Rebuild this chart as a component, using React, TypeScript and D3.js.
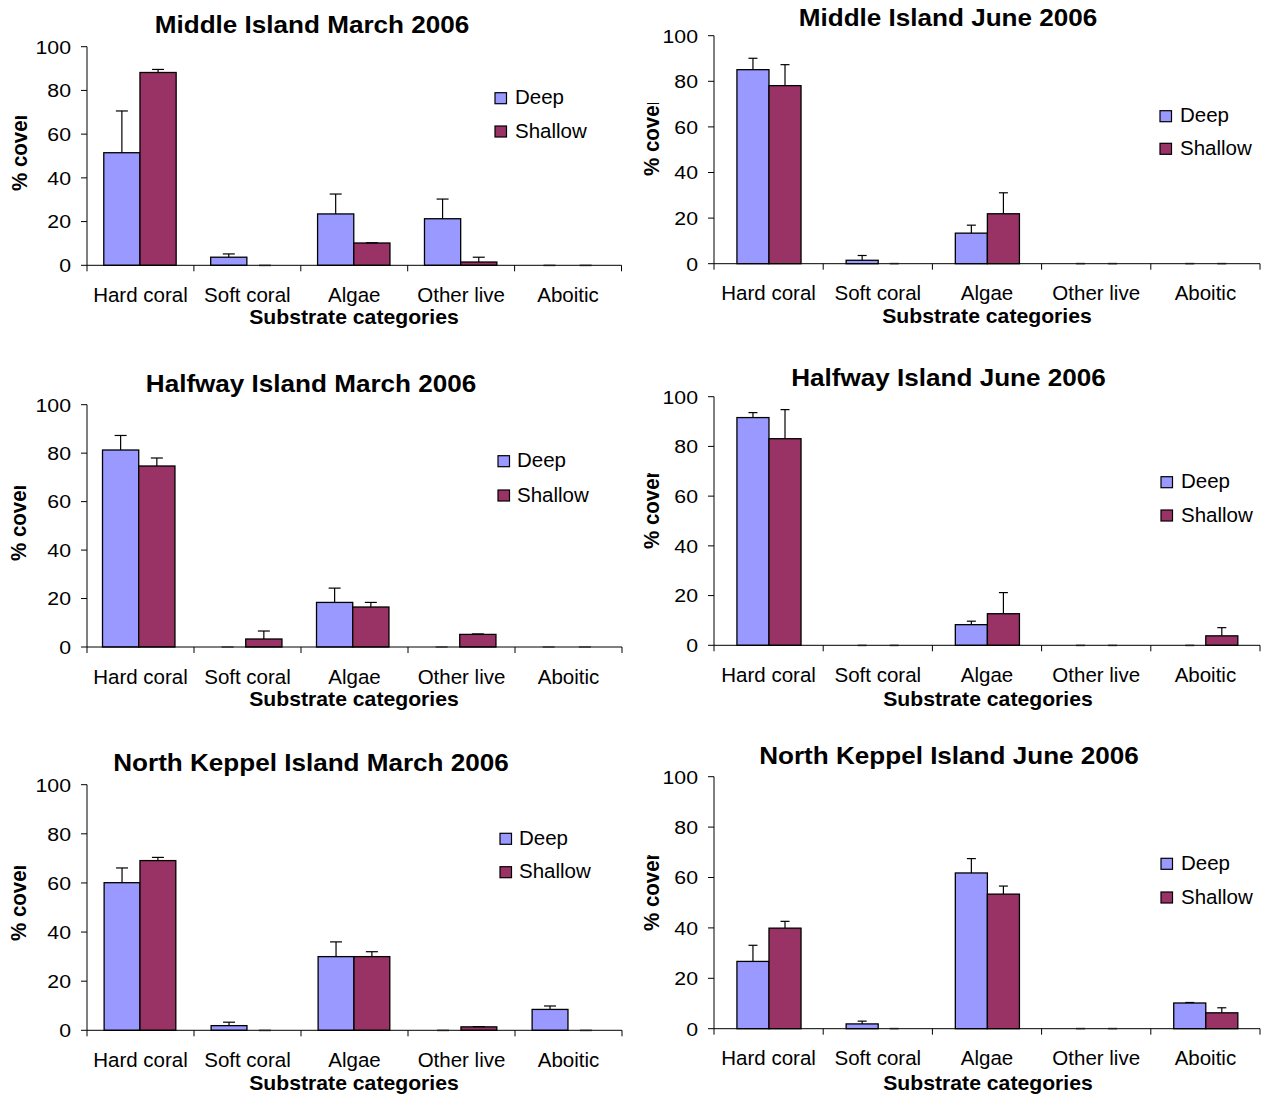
import React from "react";
import * as d3 from "d3";

const categories = ["Hard coral", "Soft coral", "Algae", "Other live", "Aboitic"];
const seriesNames = ["Deep", "Shallow"];
const yTicks = [0, 20, 40, 60, 80, 100];
const axisTitleX = "Substrate categories";
const axisTitleY = "% cover";

const titles = [
  "Middle Island March 2006",
  "Middle Island June 2006",
  "Halfway Island March 2006",
  "Halfway Island June 2006",
  "North Keppel Island March 2006",
  "North Keppel Island June 2006",
];

// mean % cover and upper error (SE) per category
const middleMarchDeep = [51.5, 3.7, 23.5, 21.3, 0];
const middleMarchDeepErr = [19.1, 1.5, 9.1, 9.0, 0];
const middleMarchShallow = [88.2, 0, 10.2, 1.5, 0];
const middleMarchShallowErr = [1.4, 0, 0.1, 2.2, 0];

const middleJuneDeep = [85.1, 1.5, 13.4, 0, 0];
const middleJuneDeepErr = [5.0, 2.1, 3.5, 0, 0];
const middleJuneShallow = [78.1, 0, 21.9, 0, 0];
const middleJuneShallowErr = [9.2, 0, 9.2, 0, 0];

const halfwayMarchDeep = [81.3, 0, 18.4, 0, 0];
const halfwayMarchDeepErr = [6.0, 0, 5.9, 0, 0];
const halfwayMarchShallow = [74.7, 3.3, 16.5, 5.2, 0];
const halfwayMarchShallowErr = [3.3, 3.3, 1.9, 0.2, 0];

const halfwayJuneDeep = [91.6, 0, 8.3, 0, 0];
const halfwayJuneDeepErr = [2.0, 0, 1.4, 0, 0];
const halfwayJuneShallow = [83.1, 0, 12.7, 0, 3.8];
const halfwayJuneShallowErr = [11.7, 0, 8.5, 0, 3.3];

const keppelMarchDeep = [60.1, 1.9, 30.0, 0, 8.5];
const keppelMarchDeepErr = [6.0, 1.4, 6.0, 0, 1.4];
const keppelMarchShallow = [69.1, 0, 30.0, 1.4, 0];
const keppelMarchShallowErr = [1.3, 0, 2.0, 0.1, 0];

const keppelJuneDeep = [26.7, 1.9, 61.8, 0, 10.2];
const keppelJuneDeepErr = [6.4, 1.1, 5.7, 0, 0.2];
const keppelJuneShallow = [39.9, 0, 53.4, 0, 6.3];
const keppelJuneShallowErr = [2.7, 0, 3.2, 0, 2.0];

const panelData = [
  { deep: middleMarchDeep, deepErr: middleMarchDeepErr, shallow: middleMarchShallow, shallowErr: middleMarchShallowErr },
  { deep: middleJuneDeep, deepErr: middleJuneDeepErr, shallow: middleJuneShallow, shallowErr: middleJuneShallowErr },
  { deep: halfwayMarchDeep, deepErr: halfwayMarchDeepErr, shallow: halfwayMarchShallow, shallowErr: halfwayMarchShallowErr },
  { deep: halfwayJuneDeep, deepErr: halfwayJuneDeepErr, shallow: halfwayJuneShallow, shallowErr: halfwayJuneShallowErr },
  { deep: keppelMarchDeep, deepErr: keppelMarchDeepErr, shallow: keppelMarchShallow, shallowErr: keppelMarchShallowErr },
  { deep: keppelJuneDeep, deepErr: keppelJuneDeepErr, shallow: keppelJuneShallow, shallowErr: keppelJuneShallowErr },
];

// layout per panel
const layouts = [
  { x0: 87, x1: 621.5, y100: 46.7, y0: 265.3, g0: 0.157, g1: 0.834, cap: 12, titleX: 312, titleY: 33.3, catY: 301.5, subX: 354, subY: 324, yLabX: 27, yLabStart: 191, yClip: 116, legX: 495, legTextX: 515, legY: [92.7, 126] },
  { x0: 714, x1: 1260, y100: 35.7, y0: 263.7, g0: 0.21, g1: 0.797, cap: 9, titleX: 948, titleY: 26, catY: 300, subX: 987, subY: 323, yLabX: 659, yLabStart: 176, yClip: 103, legX: 1160, legTextX: 1180, legY: [110.7, 143.3] },
  { x0: 87, x1: 622, y100: 404.7, y0: 647, g0: 0.145, g1: 0.822, cap: 12, titleX: 311, titleY: 392, catY: 684, subX: 354, subY: 706, yLabX: 26, yLabStart: 561, yClip: 486, legX: 498, legTextX: 517, legY: [455.7, 490] },
  { x0: 714, x1: 1260, y100: 396.7, y0: 645.3, g0: 0.21, g1: 0.797, cap: 9, titleX: 948.5, titleY: 386, catY: 681.7, subX: 988, subY: 706, yLabX: 659, yLabStart: 549, yClip: 473, legX: 1161, legTextX: 1181, legY: [476.7, 510] },
  { x0: 87, x1: 622, y100: 784.7, y0: 1030.3, g0: 0.16, g1: 0.83, cap: 12, titleX: 311, titleY: 770.7, catY: 1066.7, subX: 354, subY: 1090, yLabX: 26, yLabStart: 941, yClip: 866, legX: 500, legTextX: 519, legY: [833.3, 866.7] },
  { x0: 714, x1: 1260, y100: 776.7, y0: 1028.7, g0: 0.21, g1: 0.797, cap: 9, titleX: 949, titleY: 764, catY: 1065, subX: 988, subY: 1090, yLabX: 659, yLabStart: 931, yClip: 855, legX: 1161, legTextX: 1181, legY: [858.3, 892] },
];

const colors: Record<string, string> = { Deep: "#9999FF", Shallow: "#993366" };
const FONT = "'Liberation Sans', Arial, Helvetica, sans-serif";

function Txt({ x, y, size, bold = false, anchor = "start", sx = 1, children }: any) {
  return (
    <text
      transform={`translate(${x},${y}) scale(${sx},1)`}
      fontFamily={FONT}
      fontSize={size}
      fontWeight={bold ? "bold" : "normal"}
      textAnchor={anchor}
      fill="#000"
    >
      {children}
    </text>
  );
}

function Panel({ idx }: { idx: number }) {
  const L = layouts[idx];
  const D = panelData[idx];
  const x = d3.scaleBand<string>().domain(categories).range([L.x0, L.x1]).padding(0);
  const bw = x.bandwidth();
  const xs = d3.scaleBand<string>().domain(seriesNames).range([bw * L.g0, bw * L.g1]).padding(0);
  const y = d3.scaleLinear().domain([0, 100]).range([L.y0, L.y100]);
  const series = [
    { name: "Deep", vals: D.deep, errs: D.deepErr },
    { name: "Shallow", vals: D.shallow, errs: D.shallowErr },
  ];
  const boundaries = categories.map((c) => x(c) as number).concat([L.x1]);
  const clipId = `yclip${idx}`;
  return (
    <g>
      <defs>
        <clipPath id={clipId}>
          <rect x={0} y={L.yClip} width={L.x0 - 30} height={200} />
        </clipPath>
      </defs>
      <Txt x={L.titleX} y={L.titleY} size={23.5} bold anchor="middle" sx={1.11}>
        {titles[idx]}
      </Txt>
      {/* bars */}
      {series.map((s) =>
        categories.map((c, i) => {
          const bx = (x(c) as number) + (xs(s.name) as number);
          const v = s.vals[i];
          const top = y(v);
          return v > 0 ? (
            <rect
              key={s.name + c}
              x={bx}
              y={top}
              width={xs.bandwidth()}
              height={y(0) - top}
              fill={colors[s.name]}
              stroke="#000"
              strokeWidth={1.3}
            />
          ) : null;
        })
      )}
      {/* error bars */}
      {series.map((s) =>
        categories.map((c, i) => {
          const cx = (x(c) as number) + (xs(s.name) as number) + xs.bandwidth() / 2;
          const v = s.vals[i];
          const e = s.errs[i];
          const zero = v === 0 && e === 0;
          return (
            <g key={"e" + s.name + c} stroke={zero ? "#888" : "#000"} strokeWidth={zero ? 2 : 1.2}>
              {!zero && <line x1={cx} x2={cx} y1={y(v)} y2={y(v + e)} />}
              <line x1={cx - L.cap / 2} x2={cx + L.cap / 2} y1={y(v + e)} y2={y(v + e)} />
            </g>
          );
        })
      )}
      {/* y axis */}
      <line x1={L.x0} x2={L.x0} y1={y(0)} y2={y(100)} stroke="#000" strokeWidth={1} />
      {yTicks.map((t) => (
        <g key={"yt" + t}>
          <line x1={L.x0 - 6} x2={L.x0} y1={y(t)} y2={y(t)} stroke="#000" strokeWidth={1} />
          <Txt x={L.x0 - 16} y={y(t) + 6.8} size={19} anchor="end" sx={1.12}>
            {String(t)}
          </Txt>
        </g>
      ))}
      {/* x axis */}
      <line x1={L.x0} x2={L.x1} y1={y(0)} y2={y(0)} stroke="#000" strokeWidth={1} />
      {boundaries.map((b, i) => (
        <line key={"xt" + i} x1={b} x2={b} y1={y(0)} y2={y(0) + 6} stroke="#000" strokeWidth={1} />
      ))}
      {categories.map((c) => (
        <Txt key={"cl" + c} x={(x(c) as number) + bw / 2} y={L.catY} size={20.5} anchor="middle">
          {c}
        </Txt>
      ))}
      <Txt x={L.subX} y={L.subY} size={20} bold anchor="middle" sx={1.06}>
        {axisTitleX}
      </Txt>
      <g clipPath={`url(#${clipId})`}>
        <text
          transform={`translate(${L.yLabX},${L.yLabStart}) scale(1.1,1) rotate(-90)`}
          fontFamily={FONT}
          fontSize={20.5}
          fontWeight="bold"
          textAnchor="start"
        >
          {axisTitleY}
        </text>
      </g>
      {/* legend */}
      {seriesNames.map((s, i) => (
        <g key={"lg" + s}>
          <rect x={L.legX} y={L.legY[i]} width={11.5} height={11} fill={colors[s]} stroke="#000" strokeWidth={1.2} />
          <Txt x={L.legTextX} y={L.legY[i] + 11.5} size={20.5}>
            {s}
          </Txt>
        </g>
      ))}
    </g>
  );
}

export default function App() {
  return (
    <svg
      width={1266}
      height={1097}
      viewBox="0 0 1266 1097"
      style={{ position: "absolute", left: 0, top: 0, background: "#fff" }}
    >
      <rect x={0} y={0} width={1266} height={1097} fill="#fff" />
      {layouts.map((_, i) => (
        <Panel key={i} idx={i} />
      ))}
    </svg>
  );
}
